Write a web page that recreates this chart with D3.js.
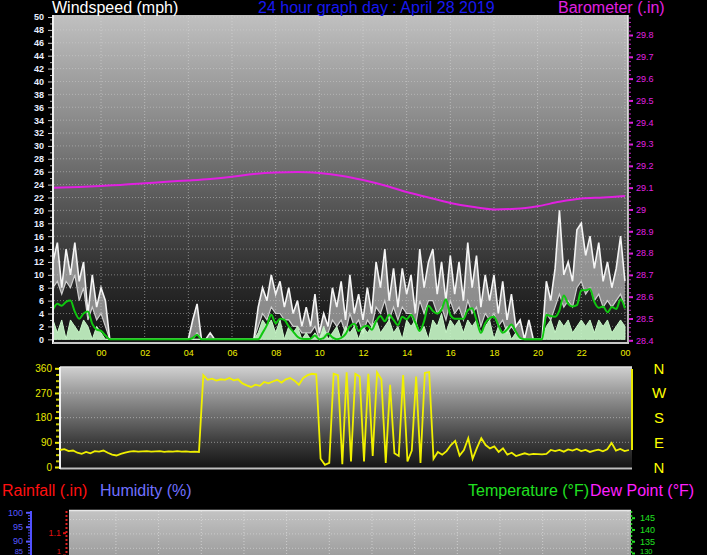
<!DOCTYPE html>
<html><head><meta charset="utf-8">
<script src="https://cdn.jsdelivr.net/npm/d3@7"></script>
<style>body{margin:0;background:#000;} svg{display:block;font-family:"Liberation Sans",Arial,sans-serif;}</style>
</head><body><svg id="c" width="707" height="555"></svg>
<script>
// ---------- DATA ----------
const startHour = -2.2, stepHours = 0.2;   // samples every 12 minutes from 21:48 previous day
const gust = [12,15,8,14,10,15,9,12,4,10,5,8,6,
  0,0,0,0,0,0,0,0,0,0,0,0,0,0,0,0,0,0,0,
  3,5.5,0,0,1,
  0,0,0,0,0,0,0,0,0,0,
  5,8,6,10,7,9,5,8,4,6,2,5,2,
  7,1,4,2,8,5,9,3,10,4,7,3,8,4,
  12,8,14,6,11,5,11,7,10,4,14,8,12,14,7,12,6,13,7,12,6,15,8,13,
  5,10,6,10,4,9,3,7,2,3,
  0,3,0,0,0,
  9,6,11,20,10,12,9,17,18,13,16,11,15,9,12,8,11,16,9];
const gustMin = [8,9,7,9,8,10,6,8,3,5,3,4,2,
  0,0,0,0,0,0,0,0,0,0,0,0,0,0,0,0,0,0,0,
  0,1,0,0,0,
  0,0,0,0,0,0,0,0,0,0,
  2,4,3,5,4,4,3,3,2,2,1,1,1,
  2,0,1,1,3,2,3,1,4,2,3,1,3,2,
  5,4,6,3,5,3,5,4,4,2,6,4,6,6,4,5,3,6,4,5,3,6,4,5,
  2,4,3,4,2,3,1,2,1,0,
  0,0,0,0,0,
  4,3,5,7,5,6,5,8,9,7,8,6,7,5,6,5,6,7,5];
const avgWind = [4.6,5.5,5.2,5.8,6.0,4.3,3.2,4.0,4.3,2.4,1.5,1.3,0.6,
  0,0,0,0,0,0,0,0,0,0,0,0,0,0,0,0,0,0,0,
  0.2,0.7,0,0,0,
  0,0,0,0,0,0,0,0,0,0,
  0,1.0,2.2,3.8,2.5,3.2,3.0,2.0,1.2,0.4,0.1,0.05,0.1,
  0.6,0,0.2,0.9,0.3,0,0.2,0.8,2.0,2.4,1.3,1.9,2.1,1.5,
  2.8,3.6,2.8,3.8,3.0,2.2,3.5,3.1,3.8,2.6,1.3,2.8,5.2,4.4,4.0,4.6,6.2,3.8,3.2,3.2,3.2,4.5,4.8,3.0,
  1.0,2.5,3.3,3.5,2.2,1.0,1.5,2.3,1.2,0.2,
  0,0,0,0,0,
  3.8,3.6,3.5,4.5,6.8,5.5,5.1,5.3,7.6,7.6,7.8,5.8,4.9,5.1,4.2,5.0,4.7,6.2,4.8];
const windSpeed = [3,1,3,0,3,2,1,3,2,0,2,1,0,
  0,0,0,0,0,0,0,0,0,0,0,0,0,0,0,0,0,0,0,
  0,0,0,0,0,
  0,0,0,0,0,0,0,0,0,0,
  1,3,2,3,1,3,0,2,1,2,0,1,0,
  1,0,2,0,1,2,0,2,1,2,0,2,1,2,
  3,1,2,3,1,2,0,3,2,3,1,2,0,3,2,4,1,3,2,3,1,3,2,3,
  1,2,3,0,2,1,2,0,1,0,
  0,0,0,0,0,
  2,3,1,3,2,3,1,2,3,2,3,1,3,2,3,1,2,3,2];
const windDir = [62,65,58,60,52,48,55,50,58,56,60,52,45,42,48,52,56,58,56,57,58,56,57,58,55,57,56,58,56,57,55,56,55,
  335,318,322,315,320,318,325,316,320,305,298,292,300,296,310,305,312,318,308,320,325,315,300,325,335,340,338,
  30,8,15,340,335,10,345,20,340,330,20,340,40,345,320,15,300,50,40,335,20,60,330,15,343,346,30,55,
  45,58,80,95,42,62,105,30,70,105,80,68,75,55,68,45,52,40,45,50,45,48,47,46,48,62,58,62,56,64,60,66,58,62,55,60,63,57,65,88,60,66,58,62];
const baroTime  = [-2.2,-1,0,1,2,3,4,5,6,7,8,9,10,11,12,13,14,15,16,17,18,19,20,21,22,23,24];
const baroValue = [29.099,29.103,29.108,29.113,29.12,29.127,29.133,29.14,29.15,29.163,29.17,29.172,29.167,29.155,29.135,29.11,29.08,29.055,29.03,29.012,29.0,29.003,29.015,29.035,29.05,29.055,29.062];

const hourTicks  = [0,2,4,6,8,10,12,14,16,18,20,22,24];
const hourLabels = ["00","02","04","06","08","10","12","14","16","18","20","22","00"];
const windTicks  = [0,2,4,6,8,10,12,14,16,18,20,22,24,26,28,30,32,34,36,38,40,42,44,46,48,50];
const baroTicks  = [28.4,28.5,28.6,28.7,28.8,28.9,29.0,29.1,29.2,29.3,29.4,29.5,29.6,29.7,29.8];
const baroLabels = ["28.4","28.5","28.6","28.7","28.8","28.9","29","29.1","29.2","29.3","29.4","29.5","29.6","29.7","29.8"];
const dirTicks   = [0,90,180,270,360];
const compass    = ["N","W","S","E","N"];
const humTicks   = [85,90,95,100];
const rainTicks  = [1,1.1];
const rainLabels = ["1","1.1"];
const tempTicks  = [130,135,140,145];

// ---------- SETUP ----------
const svg = d3.select("#c");
svg.append("rect").attr("width",707).attr("height",555).attr("fill","#000");
const defs = svg.append("defs");
function grad(id, stops){
  const g = defs.append("linearGradient").attr("id",id).attr("x1",0).attr("y1",0).attr("x2",0).attr("y2",1);
  stops.forEach(s=>g.append("stop").attr("offset",s[0]).attr("stop-color",s[1]));
}
grad("gMain",[[0,"#c0c0c0"],[0.3,"#8e8e8e"],[0.55,"#5c5c5c"],[0.8,"#2c2c2c"],[1,"#121212"]]);
grad("gDir",[[0,"#d0d0d0"],[0.25,"#9a9a9a"],[0.5,"#6a6a6a"],[0.75,"#3a3a3a"],[1,"#141414"]]);
grad("gBot",[[0,"#c4c4c4"],[1,"#9a9a9a"]]);
const tAt = i => startHour + i*stepHours;

// ---------- MAIN CHART ----------
const x = d3.scaleLinear().domain([-2.2,24.14]).range([53,628]);
const yWind = d3.scaleLinear().domain([0,50]).range([339.3,17]);
const yBaro = d3.scaleLinear().domain([28.4,29.8]).range([340.3,35]);

svg.append("rect").attr("x",53).attr("y",15).attr("width",575).attr("height",328).attr("fill","url(#gMain)");
svg.append("g").selectAll("line").data(windTicks.slice(1)).join("line")
  .attr("x1",54).attr("x2",627).attr("y1",d=>yWind(d)).attr("y2",d=>yWind(d))
  .attr("stroke","#d8d8d8").attr("stroke-opacity",0.45).attr("stroke-dasharray","1,2");
svg.append("g").selectAll("line").data(hourTicks).join("line")
  .attr("x1",d=>x(d)).attr("x2",d=>x(d)).attr("y1",15).attr("y2",342)
  .attr("stroke","#e0e0e0").attr("stroke-opacity",0.5).attr("stroke-dasharray","1,2");

svg.append("path").datum(gust).attr("fill","#d4d4d4").attr("fill-opacity",0.6)
  .attr("d",d3.area().x((d,i)=>x(tAt(i))).y0((d,i)=>yWind(gustMin[i])).y1(d=>yWind(d)));
svg.append("path").datum(gustMin).attr("fill","none").attr("stroke","#cfcfcf").attr("stroke-width",1.2)
  .attr("d",d3.line().x((d,i)=>x(tAt(i))).y(d=>yWind(d)));
svg.append("path").datum(gust).attr("fill","none").attr("stroke","#f4f4f4").attr("stroke-width",1.6)
  .attr("d",d3.line().x((d,i)=>x(tAt(i))).y(d=>yWind(d)));
svg.append("path").datum(windSpeed).attr("fill","#c8f8c8").attr("fill-opacity",0.9).attr("stroke","#c8f8c8").attr("stroke-width",1)
  .attr("d",d3.area().x((d,i)=>x(tAt(i))).y0(yWind(0)).y1(d=>yWind(d)));
svg.append("path").datum(avgWind).attr("fill","none").attr("stroke","#10c810").attr("stroke-width",2)
  .attr("d",d3.line().x((d,i)=>x(tAt(i))).y(d=>yWind(d)).curve(d3.curveMonotoneX));
svg.append("path").datum(baroValue).attr("fill","none").attr("stroke","#e020e0").attr("stroke-width",2)
  .attr("d",d3.line().x((d,i)=>x(baroTime[i])).y(d=>yBaro(d)).curve(d3.curveMonotoneX));

svg.append("line").attr("x1",53).attr("x2",53).attr("y1",15).attr("y2",344).attr("stroke","#f0f0f0").attr("stroke-width",2);
svg.append("line").attr("x1",628).attr("x2",628).attr("y1",15).attr("y2",344).attr("stroke","#f0f0f0").attr("stroke-width",1.5);
svg.append("line").attr("x1",53).attr("x2",629).attr("y1",343).attr("y2",343).attr("stroke","#c8c8c8").attr("stroke-width",2);

function styleAxis(g, color, fs){
  g.select(".domain").remove();
  g.selectAll(".tick line").attr("stroke",color);
  g.selectAll("text").attr("fill",color).attr("font-size",fs).attr("font-family","'Liberation Sans',Arial,sans-serif");
}
const aL = svg.append("g").attr("transform","translate(52,0)")
  .call(d3.axisLeft(yWind).tickValues(windTicks).tickSize(4).tickPadding(4));
styleAxis(aL,"#c8c8c8","9px"); aL.selectAll("text").attr("fill","#e8eeff").attr("font-weight","bold");
const aLm = svg.append("g").attr("transform","translate(52,0)")
  .call(d3.axisLeft(yWind).tickValues(windTicks.slice(1).map(v=>v-1)).tickSize(2).tickFormat(""));
styleAxis(aLm,"#b0b0b0","9px");
const aR = svg.append("g").attr("transform","translate(629,0)")
  .call(d3.axisRight(yBaro).tickValues(baroTicks).tickSize(4).tickPadding(3).tickFormat((d,i)=>baroLabels[i]));
styleAxis(aR,"#e020e0","9px");
aR.selectAll(".tick line").attr("stroke-width",2);
const aRm = svg.append("g").attr("transform","translate(629,0)")
  .call(d3.axisRight(yBaro).tickValues(d3.range(0,75).map(k=>28.4+k*0.02)).tickSize(2).tickFormat(""));
styleAxis(aRm,"#c020c0","9px");
const aB = svg.append("g").attr("transform","translate(0,346)")
  .call(d3.axisBottom(x).tickValues(hourTicks).tickSize(0).tickPadding(4).tickFormat((d,i)=>hourLabels[i]));
styleAxis(aB,"#f0f000","9px");

svg.append("text").attr("x",52).attr("y",13).attr("fill","#ffffff").attr("font-size","16px").text("Windspeed (mph)");
svg.append("text").attr("x",258).attr("y",13).attr("fill","#1818f0").attr("font-size","16px").text("24 hour graph day : April 28 2019");
svg.append("text").attr("x",558).attr("y",13).attr("fill","#e020e0").attr("font-size","16px").text("Barometer (.in)");

// ---------- WIND DIRECTION ----------
const xD = d3.scaleLinear().domain([-2.2,24.14]).range([60,632]);
const yD = d3.scaleLinear().domain([0,360]).range([467,368.3]);
svg.append("rect").attr("x",60).attr("y",367).attr("width",572).attr("height",101).attr("fill","url(#gDir)");
svg.append("g").selectAll("line").data([90,180,270]).join("line")
  .attr("x1",61).attr("x2",631).attr("y1",d=>yD(d)).attr("y2",d=>yD(d))
  .attr("stroke","#e0e0e0").attr("stroke-opacity",0.5).attr("stroke-dasharray","1,2");
svg.append("line").attr("x1",60).attr("x2",632).attr("y1",367).attr("y2",367).attr("stroke","#e0e0e0").attr("stroke-width",1.5);
svg.append("line").attr("x1",60).attr("x2",632).attr("y1",468.5).attr("y2",468.5).attr("stroke","#c0c0c0").attr("stroke-width",2);
svg.append("line").attr("x1",60).attr("x2",60).attr("y1",367).attr("y2",469).attr("stroke","#f0f0f0").attr("stroke-width",2);
svg.append("path").datum(windDir).attr("fill","none").attr("stroke","#f0f000").attr("stroke-width",1.8)
  .attr("d",d3.line().x((d,i)=>xD(tAt(i))).y(d=>yD(d)));
svg.append("line").attr("x1",xD(24.14)).attr("x2",xD(24.14)).attr("y1",369).attr("y2",yD(windDir[windDir.length-1]))
  .attr("stroke","#e8e800").attr("stroke-width",2);
const aD = svg.append("g").attr("transform","translate(59,0)")
  .call(d3.axisLeft(yD).tickValues(dirTicks).tickSize(4).tickPadding(3));
styleAxis(aD,"#e8e800","10px"); aD.selectAll(".tick line").attr("stroke-width",2);
const aDm = svg.append("g").attr("transform","translate(59,0)")
  .call(d3.axisLeft(yD).tickValues([22.5,45,67.5,112.5,135,157.5,202.5,225,247.5,292.5,315,337.5]).tickSize(3).tickFormat(""));
styleAxis(aDm,"#c8c800","9px"); aDm.selectAll(".tick line").attr("stroke-width",2);
svg.append("g").selectAll("text").data(compass).join("text")
  .attr("x",659).attr("y",(d,i)=>yD(360-i*90)+5.5).attr("text-anchor","middle")
  .attr("fill","#ffff00").attr("font-size","15px").text(d=>d);

// ---------- BOTTOM CHART (top part) ----------
svg.append("text").attr("x",2).attr("y",496).attr("fill","#ff1010").attr("font-size","16px").text("Rainfall (.in)");
svg.append("text").attr("x",100).attr("y",496).attr("fill","#7070ff").attr("font-size","16px").text("Humidity (%)");
svg.append("text").attr("x",468).attr("y",496).attr("fill","#20e020").attr("font-size","16px").text("Temperature (°F)");
svg.append("text").attr("x",590).attr("y",496).attr("fill","#ff20ff").attr("font-size","16px").text("Dew Point (°F)");

const xB = d3.scaleLinear().domain([-2.2,24.14]).range([69,631]);
const yHum = d3.scaleLinear().domain([85,100]).range([555.5,512.3]);
const yRain = d3.scaleLinear().domain([1,1.1]).range([555,532.7]);
const yTemp = d3.scaleLinear().domain([130,145]).range([553,517.7]);
svg.append("rect").attr("x",69).attr("y",510).attr("width",562).attr("height",50).attr("fill","url(#gBot)");
svg.append("line").attr("x1",69).attr("x2",631).attr("y1",510.5).attr("y2",510.5).attr("stroke","#e8e8e8").attr("stroke-width",1.5);
svg.append("g").selectAll("line").data(hourTicks).join("line")
  .attr("x1",d=>xB(d)).attr("x2",d=>xB(d)).attr("y1",511).attr("y2",555)
  .attr("stroke","#e8e8e8").attr("stroke-opacity",0.6).attr("stroke-dasharray","1,2");
svg.append("g").selectAll("line").data([87.5,92.5,97.5]).join("line")
  .attr("x1",70).attr("x2",630).attr("y1",d=>yHum(d)).attr("y2",d=>yHum(d))
  .attr("stroke","#e8e8e8").attr("stroke-opacity",0.5).attr("stroke-dasharray","1,2");
// labels at the picture's bottom edge: shrink and lift slightly so they stay visible
function clampLabels(g, scale){ g.selectAll(".tick").each(function(d){
  const y = scale(d);
  if (y > 550) d3.select(this).select("text").attr("font-size","7.5px").attr("transform",`translate(0,${551 - y})`); }); }
svg.append("line").attr("x1",31).attr("x2",31).attr("y1",511).attr("y2",555).attr("stroke","#5050ff").attr("stroke-width",2);
const aH = svg.append("g").attr("transform","translate(30,0)")
  .call(d3.axisLeft(yHum).tickValues(humTicks).tickSize(4).tickPadding(3));
styleAxis(aH,"#5858ff","9px"); aH.selectAll(".tick line").attr("stroke-width",2); clampLabels(aH,yHum);
const aHm = svg.append("g").attr("transform","translate(30,0)")
  .call(d3.axisLeft(yHum).tickValues([86,87,88,89,91,92,93,94,96,97,98,99]).tickSize(2).tickFormat(""));
styleAxis(aHm,"#5050ff","9px");
svg.append("line").attr("x1",66.5).attr("x2",66.5).attr("y1",511).attr("y2",555).attr("stroke","#e02020").attr("stroke-width",2).attr("stroke-dasharray","2,2");
const aRa = svg.append("g").attr("transform","translate(66,0)")
  .call(d3.axisLeft(yRain).tickValues(rainTicks).tickSize(3).tickPadding(2).tickFormat((d,i)=>rainLabels[i]));
styleAxis(aRa,"#e01010","9px"); aRa.selectAll(".tick line").attr("stroke-width",2); clampLabels(aRa,yRain);
svg.append("line").attr("x1",631.5).attr("x2",631.5).attr("y1",511).attr("y2",555).attr("stroke","#20d020").attr("stroke-width",1.5).attr("stroke-dasharray","2,2");
const aT = svg.append("g").attr("transform","translate(632,0)")
  .call(d3.axisRight(yTemp).tickValues(tempTicks).tickSize(3).tickPadding(5));
styleAxis(aT,"#20e020","9px"); aT.selectAll(".tick line").attr("stroke-width",2); clampLabels(aT,yTemp);
</script></body></html>
